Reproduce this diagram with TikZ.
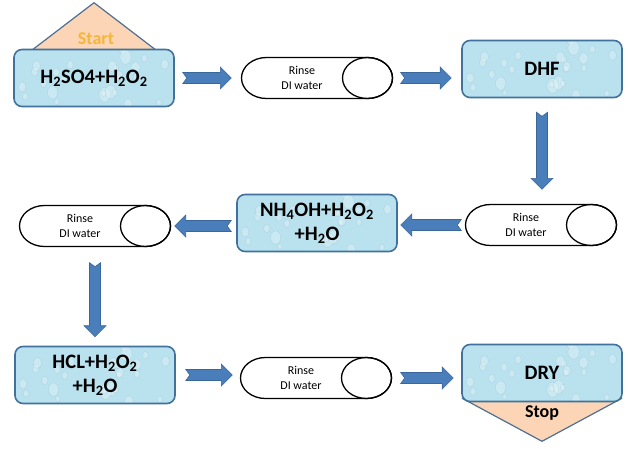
\documentclass[tikz,border=0pt]{standalone}
\usepackage{fontspec}
\setmainfont{Carlito}
\usetikzlibrary{calc,backgrounds}

\definecolor{boxfill}{HTML}{B9E2EE}
\definecolor{boxedge}{HTML}{41719C}
\definecolor{arrowfill}{HTML}{4A7EBB}
\definecolor{arrowedge}{HTML}{3A679A}
\definecolor{trifill}{HTML}{FBD5B5}
\definecolor{triedge}{HTML}{4F6F92}
\definecolor{starttxt}{HTML}{F6B53D}

\newcommand{\dn}[1]{\textsubscript{#1}}

\tikzset{
    stage/.style={rectangle, rounded corners=8pt, draw=boxedge, line width=1.6pt,
        fill=boxfill, minimum width=160pt, minimum height=57pt, align=center,
        font=\bfseries\fontsize{20.5}{24}\selectfont,
        path picture={
            \pgfmathsetseed{11}
            \foreach \k in {1,...,26}{
                \pgfmathsetmacro{\dropx}{165*rnd}
                \pgfmathsetmacro{\dropy}{60*rnd}
                \pgfmathsetmacro{\dropr}{2+4*rnd}
                \fill[white, opacity=0.25] ($(path picture bounding box.south west)+(\dropx,\dropy)$)
                    ellipse ({\dropr} and {1.3*\dropr});
                \draw[boxedge, opacity=0.12, line width=0.5pt] ($(path picture bounding box.south west)+(\dropx,\dropy)$)
                    ellipse ({\dropr} and {1.3*\dropr});
            }
        }},
    rinselabel/.style={align=center, inner sep=0pt, xshift=-15pt, font=\fontsize{12}{15}\selectfont},
    rinse/.style={rectangle, minimum width=153pt, minimum height=43pt, inner sep=0pt,
        path picture={
            \filldraw[fill=white, line width=1.3pt]
                ($(path picture bounding box.north west)+(26,-1)$)
                -- ($(path picture bounding box.north east)+(-26,-1)$) arc (90:-90:25 and 20.5)
                -- ($(path picture bounding box.south west)+(26,1)$) arc (270:90:25 and 20.5) -- cycle;
            \draw[line width=1.3pt] ($(path picture bounding box.east)+(-26,0)$) ellipse (25 and 20.5);
        },
        label={[rinselabel]center:{Rinse\\DI water}}},
    tri/.style={fill=trifill, draw=triedge, line width=1.2pt, line join=round},
    flow/.style 2 args={fill=arrowfill, draw=arrowedge, line width=0.6pt, to path={
        let \p1=(\tikztostart), \p2=(\tikztotarget),
            \n1={veclen(\x2-\x1,\y2-\y1)}, \n2={atan2(\y2-\y1,\x2-\x1)} in
        ([shift={(\p1)},rotate=\n2]#1,5.5pt)
        -- ([shift={(\p1)},rotate=\n2]\n1-#2-11pt,5.5pt)
        -- ([shift={(\p1)},rotate=\n2]\n1-#2-11pt,11pt)
        -- ([shift={(\p1)},rotate=\n2]\n1-#2,0pt)
        -- ([shift={(\p1)},rotate=\n2]\n1-#2-11pt,-11pt)
        -- ([shift={(\p1)},rotate=\n2]\n1-#2-11pt,-5.5pt)
        -- ([shift={(\p1)},rotate=\n2]#1,-5.5pt)
        -- ([shift={(\p1)},rotate=\n2]#1+4pt,0pt) -- cycle}}
}

\begin{document}
\begin{tikzpicture}[x=1pt, y=1pt]
    \useasboundingbox (0,0) rectangle (632,-448);

    % first row
    \node[stage] (h2so4) at (94,-78) {H\dn{2}SO4+H\dn{2}O\dn{2}};
    \node[rinse] (rinse1) at (317,-78) {};
    \node[stage] (dhf) at (542,-69) {DHF};

    % second row
    \node[rinse] (rinse2) at (541,-225) {};
    \node[stage] (nh4oh) at (317,-223) {NH\dn{4}OH+H\dn{2}O\dn{2}\\+H\dn{2}O};
    \node[rinse] (rinse3) at (95,-226) {};

    % third row
    \node[stage] (hcl) at (95,-375) {HCL+H\dn{2}O\dn{2}\\+H\dn{2}O};
    \node[rinse] (rinse4) at (316,-378) {};
    \node[stage] (dry) at (542,-373) {DRY};

    % start and stop caps
    \begin{scope}[on background layer]
        \draw[tri] ($(h2so4.north west)+(18,-2)$) -- ($(h2so4.north)+(0,46)$)
            -- ($(h2so4.north east)+(-18,-2)$) -- cycle;
        \draw[tri] ($(dry.south west)+(1,4)$) -- ($(dry.south)+(0,-39)$)
            -- ($(dry.south east)+(-1,4)$) -- cycle;
    \end{scope}
    \node[font=\bfseries\fontsize{18}{18}\selectfont, text=starttxt] (start) at (96,-39) {Start};
    \node[font=\bfseries\fontsize{18}{18}\selectfont] (stop) at (542,-413) {Stop};

    % arrows
    \path[flow={8pt}{9pt}] (h2so4.east) to (h2so4.east -| rinse1.west);
    \path[flow={7pt}{10pt}] (rinse1.east) to (rinse1.east -| dhf.west);
    \path[flow={14pt}{14pt}] (dhf.south) to (dhf.south |- rinse2.north);
    \path[flow={3pt}{3pt}] (rinse2.west) to (rinse2.west -| nh4oh.east);
    \path[flow={5pt}{3pt}] (nh4oh.west |- rinse3.east) to (rinse3.east);
    \path[flow={15pt}{9pt}] (rinse3.south) to (hcl.north);
    \path[flow={10pt}{7pt}] (hcl.east) to (hcl.east -| rinse4.west);
    \path[flow={8pt}{8pt}] (rinse4.east) to (rinse4.east -| dry.west);
\end{tikzpicture}
\end{document}
